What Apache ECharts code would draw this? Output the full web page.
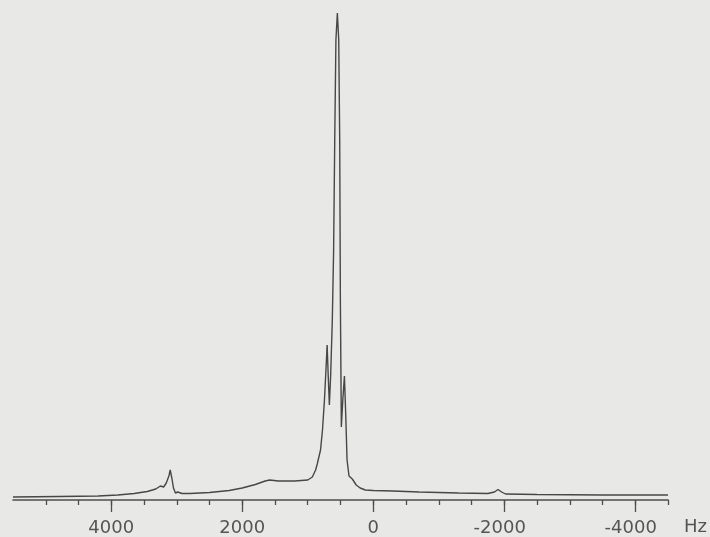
<!DOCTYPE html>
<html>
<head>
<meta charset="utf-8">
<script src="https://cdn.jsdelivr.net/npm/echarts@6/dist/echarts.min.js"></script>
<style>
  html, body { margin: 0; padding: 0; background: #e8e8e6; }
  #chart { width: 710px; height: 537px; }
</style>
</head>
<body>
<div id="chart"></div>
<script>
// Frequency (Hz) and intensity (arbitrary units)
var freqHz = [5500, 4800, 4200, 3900, 3650, 3450, 3320, 3250, 3200, 3160, 3120, 3100, 3075, 3050, 3020, 2985, 2960, 2920, 2800, 2500, 2200, 2000, 1800, 1650, 1580, 1450, 1200, 1000, 930, 880, 855, 830, 805, 775, 745, 722, 704, 688, 670, 650, 625, 605, 588, 570, 548, 527, 512, 502, 487, 465, 440, 420, 400, 370, 320, 295, 260, 200, 120, 0, -300, -700, -1300, -1750, -1850, -1905, -1960, -2020, -2500, -3500, -4500];
var intensity = [3, 3.5, 4, 5, 6.5, 8.5, 11, 14, 13, 17, 24, 30, 22, 12, 7, 8, 9, 6.5, 6.5, 7.5, 9.5, 12, 15.5, 19, 20, 19, 19, 20, 23, 30, 36, 38, 50, 70, 100, 130, 155, 125, 95, 125, 180, 250, 360, 460, 487, 460, 360, 200, 73, 100, 124, 85, 40, 24, 21, 20, 15, 12, 10, 9.5, 9, 8, 7, 6.5, 8, 10.5, 8, 6, 5.5, 5, 5];
var minorTicks = [5000, 4500, 4000, 3500, 3000, 2500, 2000, 1500, 1000, 500, 0, -500, -1000, -1500, -2000, -2500, -3000, -3500, -4000, -4500];
var majorTicks = [4000, 2000, 0, -2000, -4000];
var unitLabel = 'Hz';

var points = freqHz.map(function (f, i) { return [f, intensity[i]]; });

var chart = echarts.init(document.getElementById('chart'), null, { renderer: 'canvas' });
var axisColor = '#4d4d4d';
var labelFont = 'DejaVu Sans';

chart.setOption({
  animation: false,
  backgroundColor: '#e8e8e6',
  title: {
    text: unitLabel,
    left: 684,
    top: 518,
    textStyle: { fontFamily: labelFont, fontSize: 18, fontWeight: 'normal', color: '#555' },
    padding: 0
  },
  grid: { left: 13, right: 42, top: 10, bottom: 37 },
  xAxis: [
    {
      type: 'value',
      min: -4500, max: 5500,
      inverse: true,
      axisLine: { show: true, lineStyle: { color: axisColor, width: 1.6 } },
      axisTick: { show: true, customValues: minorTicks, length: 5, lineStyle: { color: axisColor, width: 1.3 } },
      axisLabel: { show: false },
      splitLine: { show: false }
    },
    {
      type: 'value',
      min: -4500, max: 5500,
      inverse: true,
      position: 'bottom',
      axisLine: { show: false },
      axisTick: { show: true, customValues: majorTicks, length: 12, lineStyle: { color: axisColor, width: 1.3 } },
      axisLabel: {
        show: true,
        customValues: majorTicks,
        margin: 19,
        fontFamily: labelFont,
        fontSize: 18,
        color: '#555',
        formatter: function (v) {
          return v < 0 ? '{neg|' + v + '}' : String(v);
        },
        rich: {
          neg: { fontFamily: labelFont, fontSize: 18, color: '#555', padding: [0, 9, 0, 0] }
        }
      },
      splitLine: { show: false }
    }
  ],
  yAxis: {
    type: 'value',
    min: 0, max: 490,
    show: false,
    splitLine: { show: false }
  },
  series: [{
    type: 'line',
    xAxisIndex: 0,
    data: points,
    showSymbol: false,
    smooth: false,
    lineStyle: { color: '#474747', width: 1.4 }
  }]
});
</script>
</body>
</html>
